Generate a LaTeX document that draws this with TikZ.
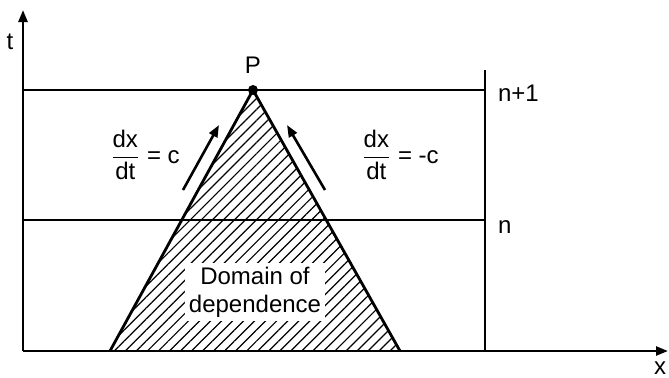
\documentclass[tikz,border=0pt]{standalone}
\usepackage{fontspec}
\setmainfont{Liberation Sans}
\usepackage{amsmath}
\usetikzlibrary{arrows.meta, patterns.meta}

\begin{document}
\begin{tikzpicture}[
  x=0.5pt, y=0.5pt,
  line width=1.4pt,
  every node/.style={font=\fontsize{12}{14}\selectfont},
  axis/.style={-{Triangle[length=6pt,width=4.5pt]}, line width=1.2pt},
  charline/.style={-{Triangle[length=6pt,width=4.5pt]}, line width=1.3pt},
  hatch/.style={pattern={Lines[angle=45, distance=3.9pt, line width=0.6pt]}},
  slope/.style={font=\fontsize{12}{14}\selectfont}
]
\useasboundingbox (-23,-26) rectangle (646,351);

%% ── points ───────────────────────────────────────────────────────────────────
\coordinate (O)  at (0,0);
\coordinate (T)  at (0,341);
\coordinate (X)  at (645,0);
\coordinate (A)  at (87,0);
\coordinate (B)  at (377,0);
\coordinate (P)  at (230,261);
\coordinate (L1) at (0,261);
\coordinate (R1) at (462,261);
\coordinate (L0) at (0,131);
\coordinate (R0) at (462,131);
\coordinate (RB) at (462,0);
\coordinate (RT) at (462,281);

%% ── domain of dependence (hatched) ───────────────────────────────────────────
\fill[hatch] (A) -- (P) -- (B) -- cycle;
\node[fill=white, align=center, inner sep=2pt] (dom) at (232,59)
  {Domain of\\dependence};

%% ── time levels ──────────────────────────────────────────────────────────────
\draw (L1) -- (R1);
\draw (L0) -- (R0);
\draw (RB) -- (RT);
\node[anchor=west] (lvl1) at (467,258) {n+1};
\node[anchor=west] (lvl0) at (467,124) {n};

%% ── axes ─────────────────────────────────────────────────────────────────────
\draw[axis] (O) -- (T);
\draw[axis] (O) -- (X);
\node (tlbl) at (-13,309) {t};
\node (xlbl) at (637,-17) {x};

%% ── characteristics ──────────────────────────────────────────────────────────
\draw (A) -- (P) -- (B);
\fill (P) circle[radius=2.5pt];
\node (plbl) at (230,286) {P};

\coordinate (c1s) at (160,161);
\coordinate (c1e) at (196,226);
\coordinate (c2s) at (302,161);
\coordinate (c2e) at (264,226);
\draw[charline] (c1s) -- (c1e);
\draw[charline] (c2s) -- (c2e);

\node[slope] (s1) at (122,196) {$\dfrac{\mbox{dx}}{\mbox{dt}}$ = c};
\node[slope] (s2) at (377,196) {$\dfrac{\mbox{dx}}{\mbox{dt}}$ = -c};

\end{tikzpicture}
\end{document}
